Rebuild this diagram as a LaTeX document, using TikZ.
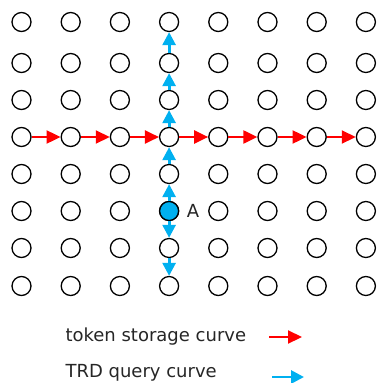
\documentclass[tikz,border=0pt]{standalone}
\usepackage{fontspec}
\setmainfont{DejaVu Sans}
\usetikzlibrary{arrows.meta}
\definecolor{trdblue}{RGB}{0,176,240}

\begin{document}
\begin{tikzpicture}[
    x=1pt, y=-1pt,
    cell/.style={circle, draw, line width=1.3pt, minimum size=19pt, inner sep=0pt},
    store/.style={red, line width=2.2pt, -{Triangle[length=14pt, width=13pt]}},
    query/.style={trdblue, line width=2.8pt, -{Triangle[length=13pt, width=13pt]}},
    txt/.style={anchor=west, text=black!85, font=\fontsize{18}{21}\selectfont}
]
\useasboundingbox (0,0) rectangle (379,383);

% 8x8 grid, rows slightly uneven
\foreach \r/\y in {1/22, 2/63, 3/100, 4/137, 5/174, 6/211, 7/248, 8/286} {
    \foreach \c in {1,...,8} {
        \node[cell] (c-\r-\c) at ({21.5+49.2*(\c-1)}, \y) {};
    }
}
\node[cell, fill=trdblue] (a) at (c-6-4) {};
\node[txt] (lbl-a) at ([xshift=4pt]a.east) {A};

% storage curve along row 4
\foreach \c [evaluate=\c as \n using int(\c+1)] in {1,...,7} {
    \draw[store] (c-4-\c) -- (c-4-\n);
}

% query curve up and down from A
\draw[query] (a) -- (c-5-4);
\foreach \r [evaluate=\r as \n using int(\r-1)] in {5,4,3,2} {
    \draw[query] (c-\r-4) -- (c-\n-4);
}
\draw[query] (a) -- (c-7-4);
\draw[query] (c-7-4) -- (c-8-4);

% legend
\node[txt] (leg-s) at (62, 337) {token storage curve};
\node[txt] (leg-q) at (62, 373) {TRD query curve};
\coordinate (s0) at (269, 337);
\coordinate (s1) at (302, 337);
\coordinate (q0) at (272, 377);
\coordinate (q1) at (304, 377);
\draw[store] (s0) -- (s1);
\draw[query] (q0) -- (q1);

\end{tikzpicture}
\end{document}
